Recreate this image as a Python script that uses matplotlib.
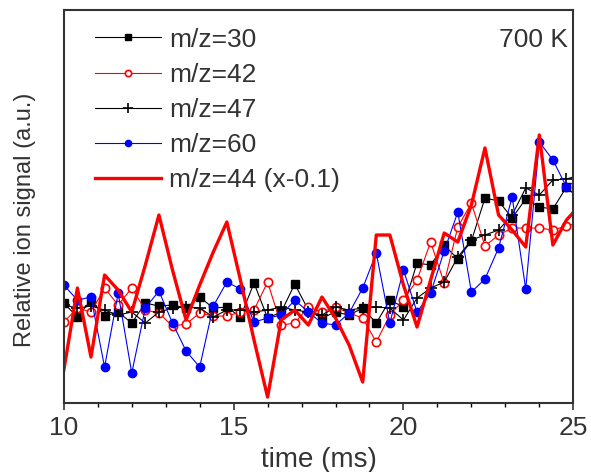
import numpy as np
import matplotlib
matplotlib.use("Agg")
import matplotlib.pyplot as plt

plt.rcParams['font.family'] = ['Liberation Sans', 'DejaVu Sans']

# time grid (ms), 0.4 ms steps
t = np.round(np.arange(0, 39) * 0.4 + 10.0, 2)

# signals (a.u.)
mz30 = [1.00, 0.86, 1.03, 0.87, 0.91, 0.80, 1.00, 0.97, 0.98, 0.95, 1.06, 0.95, 0.96,
        0.86, 1.20, 0.85, 0.91, 1.19, 0.93, 0.85, 0.91, 0.88, 0.95, 0.80, 1.03, 0.96,
        1.40, 1.38, 1.58, 1.44, 1.62, 2.05, 2.02, 1.85, 2.04, 1.96, 1.94, 2.16, 2.03]
mz42 = [0.81, 0.95, 0.91, 1.15, 0.98, 1.15, 0.93, 0.90, 0.77, 0.79, 0.90, 0.87, 0.87,
        0.91, 0.93, 1.21, 0.78, 0.80, 0.96, 0.91, 0.96, 0.90, 0.85, 0.61, 0.88, 1.03,
        1.23, 1.61, 1.20, 1.76, 2.00, 1.57, 1.68, 1.75, 1.75, 1.75, 1.73, 1.77, 1.81]
mz47 = [0.98, 0.95, 0.97, 0.93, 0.88, 0.91, 0.80, 0.91, 0.95, 0.96, 0.95, 0.86, 0.93,
        0.93, 0.91, 0.93, 0.96, 0.93, 0.91, 0.88, 0.96, 0.93, 0.95, 0.96, 0.95, 0.83,
        1.05, 1.15, 1.21, 1.46, 1.63, 1.68, 1.73, 1.88, 2.15, 2.08, 2.23, 2.24, 2.28]
mz60 = [1.18, 1.03, 1.06, 0.36, 1.10, 0.30, 0.95, 1.12, 0.80, 0.52, 0.36, 0.97, 1.21,
        1.14, 0.81, 0.85, 0.88, 1.03, 0.91, 0.80, 0.78, 0.90, 1.15, 1.50, 0.80, 1.33,
        0.91, 1.10, 1.52, 1.91, 1.11, 1.24, 1.55, 2.06, 1.14, 2.61, 2.43, 2.16, 2.25]
mz44 = [0.33, 1.15, 0.46, 1.28, 1.13, 0.91, 1.38, 1.88, 1.33, 0.83, 1.18, 1.51, 1.81,
        1.23, 0.63, 0.06, 0.83, 0.93, 0.78, 1.06, 0.85, 0.58, 0.21, 1.68, 1.68, 1.18,
        0.76, 1.23, 1.70, 1.61, 1.98, 2.55, 1.88, 1.73, 1.56, 2.68, 1.58, 1.83, 1.98]

fig = plt.figure(figsize=(5.91, 4.72), dpi=100)
ax = fig.add_axes([0.108, 0.146, 0.862, 0.833])

ax.plot(t, mz30, color='black', lw=0.8, marker='s', ms=6, label='m/z=30')
ax.plot(t, mz42, color='red', lw=0.8, marker='o', ms=6, mfc='white', mew=1.2,
        label='m/z=42')
ax.plot(t, mz47, color='black', lw=0.8, marker='+', ms=9, mew=1.2, label='m/z=47')
ax.plot(t, mz60, color='blue', lw=0.8, marker='o', ms=6, label='m/z=60')
ax.plot(t, mz44, color='red', lw=2.4, label='m/z=44 (x-0.1)')

ax.set_xlim(10, 25)
ax.set_ylim(0, 3.93)
ax.set_xticks([10, 15, 20, 25])
ax.set_xticks(np.arange(10, 25.1, 1), minor=True)
ax.set_yticks([])
ax.tick_params(axis='x', which='major', direction='out', length=5, width=1.2,
               labelsize=19, pad=4, colors='#333333')
ax.tick_params(axis='x', which='minor', direction='out', length=3, width=1)
for s in ax.spines.values():
    s.set_linewidth(1.5)
    s.set_color('#333333')

ax.set_xlabel('time (ms)', fontsize=20, color='#333333', labelpad=5)
ax.set_ylabel('Relative ion signal (a.u.)', fontsize=17, color='#333333')
ax.yaxis.set_label_coords(-0.055, 0.465)

ax.text(0.99, 0.955, '700 K', transform=ax.transAxes, ha='right', va='top',
        fontsize=19, color='#333333')

leg = ax.legend(loc='upper left', bbox_to_anchor=(0.03, 0.995), frameon=False,
                fontsize=19, handlelength=2.5, handletextpad=0.3, labelspacing=0.42,
                borderaxespad=0.2, markerscale=0.75)
for txt in leg.get_texts():
    txt.set_color('#333333')

fig.savefig('out.png', dpi=100)
